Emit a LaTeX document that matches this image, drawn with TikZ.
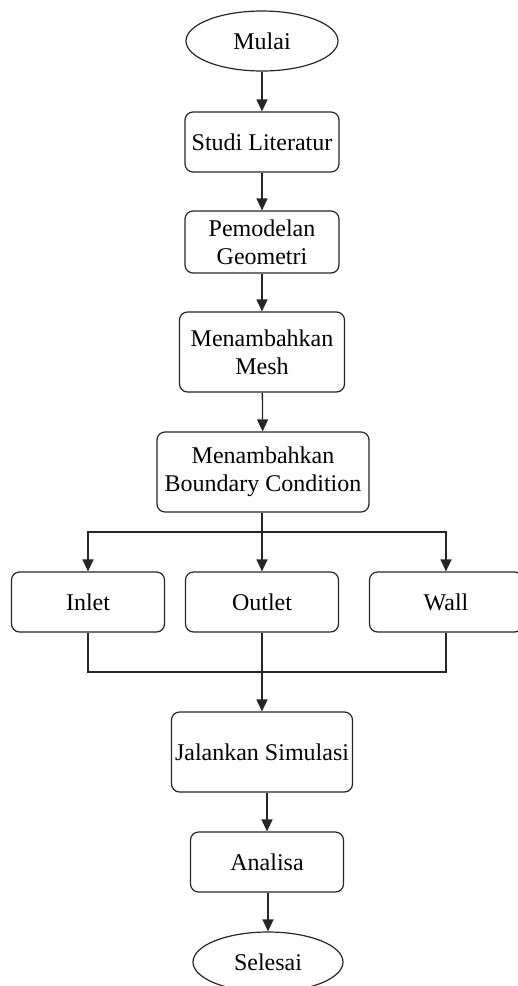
\documentclass[tikz,border=0pt]{standalone}
\usepackage{fontspec}
\setmainfont{Liberation Serif}
\usetikzlibrary{shapes.geometric,arrows.meta}
\begin{document}
\begin{tikzpicture}[x=1pt,y=-1pt,
  font=\fontsize{24}{28}\selectfont,
  every node/.style={inner sep=0pt, align=center},
  box/.style={draw=black!85, line width=1.2pt, rounded corners=8pt},
  oval/.style={draw=black!85, line width=1.2pt, ellipse},
  conn/.style={draw=black!85, line width=1.3pt},
  arr/.style={conn, -{Triangle[width=11pt,length=12pt]}}]
\useasboundingbox (0,0) rectangle (518,986);
\node[oval, minimum width=152pt, minimum height=60pt] (m) at (262,41) {Mulai};
\node[box, minimum width=154pt, minimum height=60pt] (s) at (262,142) {Studi Literatur};
\node[box, minimum width=154pt, minimum height=62pt] (p) at (262,242) {Pemodelan\\Geometri};
\node[box, minimum width=165pt, minimum height=80pt] (mm) at (262,352) {Menambahkan\\Mesh};
\node[box, minimum width=212pt, minimum height=80pt] (b) at (263,472) {Menambahkan\\Boundary Condition};
\node[box, minimum width=153pt, minimum height=60pt] (i) at (88,602) {Inlet};
\node[box, minimum width=153pt, minimum height=60pt] (o) at (262,602) {Outlet};
\node[box, minimum width=153pt, minimum height=60pt] (w) at (446,602) {Wall};
\node[box, minimum width=181pt, minimum height=80pt] (j) at (262,752) {Jalankan Simulasi};
\node[box, minimum width=153pt, minimum height=60pt] (a) at (267,862) {Analisa};
\node[oval, minimum width=150pt, minimum height=60pt] (e) at (268,962) {Selesai};
\coordinate (split) at (262,532);
\coordinate (merge) at (262,672);
\draw[arr] (m) -- (s);
\draw[arr] (s) -- (p);
\draw[arr] (p) -- (mm);
\draw[arr] (mm) -- (b);
\draw[conn, line width=2pt] (b.south -| split) -- (split);
\draw[arr] (split) -- (o);
\draw[arr] (split) -| (i);
\draw[arr] (split) -| (w);
\draw[conn] (i) |- (merge);
\draw[conn] (w) |- (merge);
\draw[conn, line width=1.8pt] (o) -- (merge);
\draw[arr, line width=1.8pt] (merge) -- (j);
\draw[arr] (a.north |- j.south) -- (a);
\draw[arr] (a.south -| e.north) -- (e);
\end{tikzpicture}
\end{document}
